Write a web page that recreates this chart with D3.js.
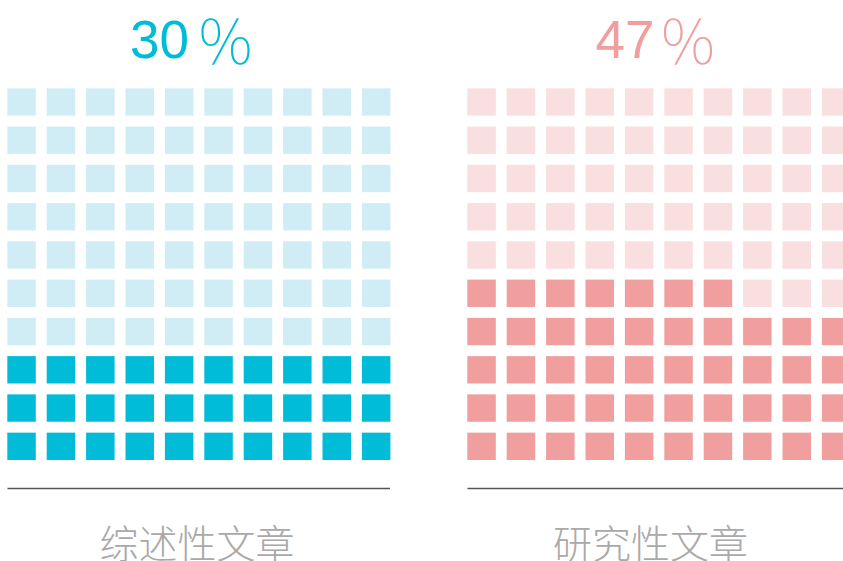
<!DOCTYPE html>
<html><head><meta charset="utf-8">
<script src="https://cdn.jsdelivr.net/npm/d3@7"></script>
<style>html,body{margin:0;padding:0;background:#fff;}svg{display:block;}</style>
</head><body>
<script>
const categories = ["综述性文章", "研究性文章"];
const values = [30, 47];
const titleLabels = ["30", "47"];
const fullColors = ["#00bcd8", "#f09e9e"];
const lightColors = ["#d0edf5", "#f9dfdf"];
const titleColors = ["#00bcd8", "#f09e9e"];

const W = 843, H = 561;
const svg = d3.select("body").append("svg").attr("width", W).attr("height", H);

const panelX = d3.scaleOrdinal().domain(categories).range([0, 460]);
const col = d3.scaleBand().domain(d3.range(10)).range([7.3, 390.4]).paddingInner(0.277).paddingOuter(0);
const row = d3.scaleBand().domain(d3.range(10)).range([88.3, 460]).paddingInner(0.285).paddingOuter(0);

categories.forEach((cat, ci) => {
  const g = svg.append("g").attr("transform", `translate(${panelX(cat)},0)`);
  const cells = d3.range(100).map(i => ({i, c: i % 10, r: 9 - Math.floor(i / 10), on: i < values[ci]}));
  g.selectAll("rect").data(cells).enter().append("rect")
    .attr("x", d => col(d.c)).attr("y", d => row(d.r))
    .attr("width", col.bandwidth()).attr("height", row.bandwidth())
    .attr("fill", d => d.on ? fullColors[ci] : lightColors[ci]);
  g.append("line").attr("x1", 7.5).attr("x2", 390).attr("y1", 488.5).attr("y2", 488.5)
    .attr("stroke", "#555").attr("stroke-width", 1.5);
  const cx = ci === 0 ? 193 : 197;
  const t = g.append("text").attr("x", cx).attr("y", 58).attr("text-anchor", "middle")
    .attr("fill", titleColors[ci]);
  t.append("tspan").text(titleLabels[ci])
    .attr("font-family", "Liberation Sans, Arial, sans-serif").attr("font-size", 53);
  t.append("tspan").text("％").attr("dx", ci === 0 ? 6 : 3).attr("dy", 7)
    .attr("font-family", "Noto Sans CJK SC").attr("font-weight", 100).attr("font-size", 61);
  const lx = ci === 0 ? 197 : 190.5;
  g.append("text").attr("x", lx).attr("y", 558).attr("text-anchor", "middle")
    .attr("fill", "#a9a9a9").attr("font-family", "Noto Sans CJK SC").attr("font-weight", 300)
    .attr("font-size", 39).text(cat);
});
</script>
</body></html>
